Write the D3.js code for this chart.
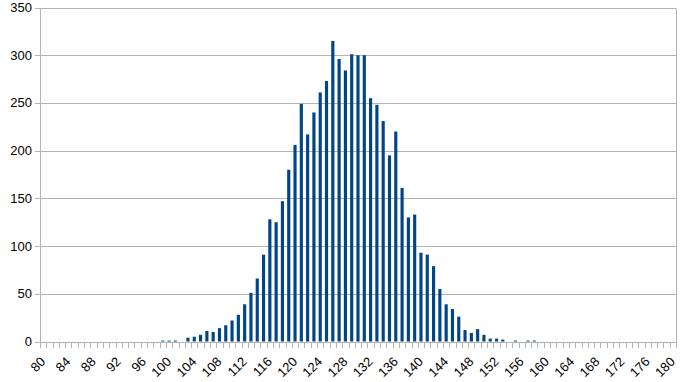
<!DOCTYPE html>
<html>
<head>
<meta charset="utf-8">
<script src="https://cdn.jsdelivr.net/npm/d3@7"></script>
<style>
  body { margin: 0; background: #fff; }
  text { font-family: "Liberation Sans", Arial, sans-serif; }
</style>
</head>
<body>
<div id="chart"></div>
<script>
// valores de la tabla (80..180)
const categorias = d3.range(80, 181);
const frecuencias = [
  0, 0, 0, 0, 0, 0, 0, 0, 0, 0,          // 80-89
  0, 0, 0, 0, 0, 0, 0, 0, 0, 1,          // 90-99
  1, 1, 0, 4, 5, 7, 11, 10, 14, 17,      // 100-109
  22, 28, 39, 51, 66, 91, 128, 125, 147, 180,   // 110-119
  206, 249, 217, 240, 261, 273, 315, 296, 284, 301, // 120-129
  300, 300, 255, 248, 231, 195, 220, 161, 130, 133, // 130-139
  93, 91, 79, 55, 39, 34, 26, 12, 9, 13,  // 140-149
  7, 3, 3, 2, 0, 1, 0, 1, 1, 0,           // 150-159
  0, 0, 0, 0, 0, 0, 0, 0, 0, 0,           // 160-169
  0, 0, 0, 0, 0, 0, 0, 0, 0, 0,           // 170-179
  0                                       // 180
];
const etiquetasX = [80, 84, 88, 92, 96, 100, 104, 108, 112, 116, 120, 124, 128,
  132, 136, 140, 144, 148, 152, 156, 160, 164, 168, 172, 176, 180];
const marcasY = [0, 50, 100, 150, 200, 250, 300, 350];

const datos = categorias.map((c, i) => ({ cat: c, total: frecuencias[i] }));

const ancho = 687, alto = 382;
const margen = { top: 7.5, right: 11, bottom: 40.5, left: 40 };

const svg = d3.select("#chart").append("svg")
  .attr("width", ancho)
  .attr("height", alto);

const x = d3.scaleBand()
  .domain(categorias)
  .range([margen.left, ancho - margen.right])
  .paddingInner(0.5)
  .paddingOuter(0.25);

const y = d3.scaleLinear()
  .domain([0, 350])
  .range([alto - margen.bottom, margen.top]);

const paso = x.step();
const x0 = margen.left;

// rejilla horizontal
svg.append("g")
  .selectAll("line")
  .data(marcasY)
  .enter().append("line")
  .attr("x1", margen.left - 5)
  .attr("x2", ancho - margen.right)
  .attr("y1", d => Math.round(y(d)) + 0.5)
  .attr("y2", d => Math.round(y(d)) + 0.5)
  .attr("stroke", "#b3b3b3")
  .attr("stroke-width", 1);

// borde derecho
svg.append("line")
  .attr("x1", ancho - margen.right + 0.5)
  .attr("x2", ancho - margen.right + 0.5)
  .attr("y1", Math.round(y(350)) + 0.5)
  .attr("y2", Math.round(y(0)) + 0.5)
  .attr("stroke", "#b3b3b3");

// eje y
svg.append("line")
  .attr("x1", x0 + 0.5).attr("x2", x0 + 0.5)
  .attr("y1", Math.round(y(350)) + 0.5)
  .attr("y2", Math.round(y(0)) + 6)
  .attr("stroke", "#b3b3b3");

svg.append("g")
  .selectAll("text")
  .data(marcasY)
  .enter().append("text")
  .attr("x", margen.left - 8)
  .attr("y", d => y(d))
  .attr("dy", "0.35em")
  .attr("text-anchor", "end")
  .style("font-size", "13px")
  .attr("fill", "#000")
  .text(d => d);

// marcas del eje x
svg.append("g")
  .selectAll("line")
  .data(d3.range(categorias.length + 1))
  .enter().append("line")
  .attr("x1", i => Math.round(x0 + i * paso) + 0.5)
  .attr("x2", i => Math.round(x0 + i * paso) + 0.5)
  .attr("y1", Math.round(y(0)) + 0.5)
  .attr("y2", Math.round(y(0)) + 6)
  .attr("stroke", "#b3b3b3");

// barras
svg.append("g")
  .selectAll("rect")
  .data(datos)
  .enter().append("rect")
  .attr("x", d => x(d.cat))
  .attr("y", d => y(d.total))
  .attr("width", x.bandwidth())
  .attr("height", d => y(0) - y(d.total))
  .attr("fill", "#004586");

// eje x (linea base)
svg.append("line")
  .attr("x1", x0)
  .attr("x2", ancho - margen.right + 1)
  .attr("y1", Math.round(y(0)) + 0.5)
  .attr("y2", Math.round(y(0)) + 0.5)
  .attr("stroke", "#b3b3b3");

// etiquetas x giradas
svg.append("g")
  .selectAll("text")
  .data(etiquetasX)
  .enter().append("text")
  .attr("transform", d => `translate(${x(d) + x.bandwidth() / 2 + 3},${y(0) + 21}) rotate(-45)`)
  .attr("text-anchor", "end")
  .style("font-size", "13px")
  .attr("fill", "#000")
  .text(d => d);
</script>
</body>
</html>
